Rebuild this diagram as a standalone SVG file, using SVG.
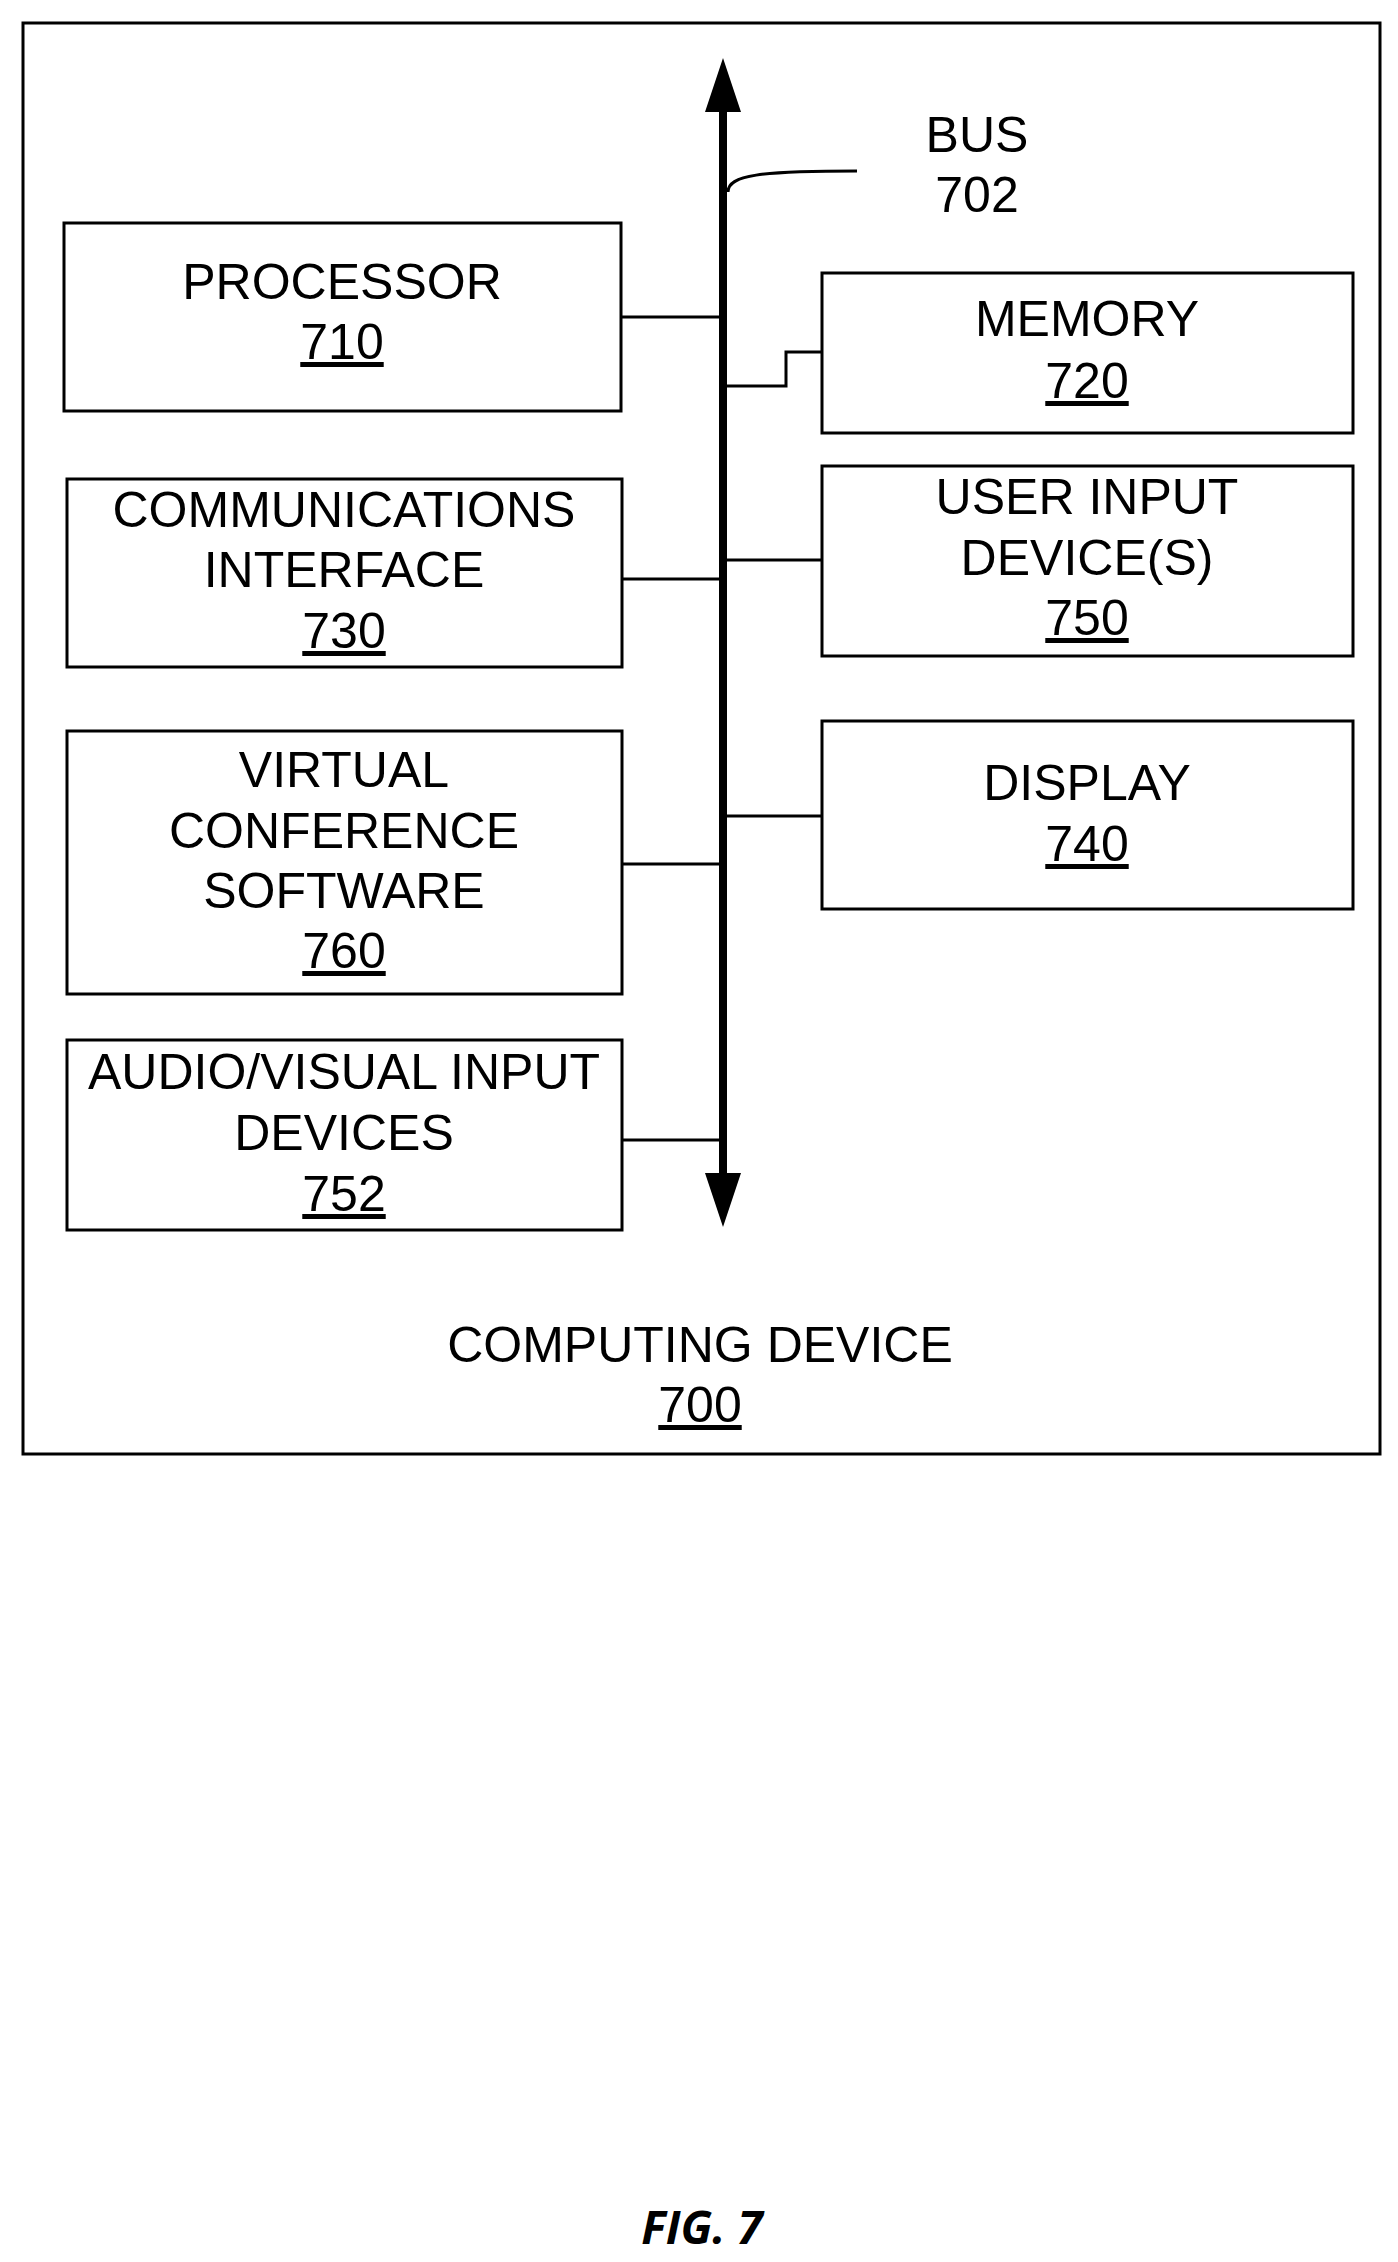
<svg xmlns="http://www.w3.org/2000/svg" width="1398" height="2262" viewBox="0 0 1398 2262">
<style>
rect{fill:none;stroke:#000;stroke-width:3}
text{font-family:"Liberation Sans",Arial,sans-serif;font-size:50px;text-anchor:middle;fill:#000}
.u{text-decoration:underline}
.c{fill:none;stroke:#000;stroke-width:3}
</style>
<rect x="0" y="0" width="1398" height="2262" style="fill:#fff;stroke:none"/>
<g id="computing-device"><rect x="23" y="23" width="1357" height="1431"/><text x="700" y="1362">COMPUTING DEVICE</text><text x="700" y="1422" class="u">700</text></g>
<g id="bus"><line x1="723" y1="95" x2="723" y2="1190" stroke="#000" stroke-width="8"/><polygon points="723,58 705,112 741,112" fill="#000"/><polygon points="723,1227 705,1173 741,1173" fill="#000"/><text x="977" y="152">BUS</text><text x="977" y="212">702</text></g>
<g id="processor"><rect x="64" y="223" width="557" height="188"/><text x="342" y="299">PROCESSOR</text><text x="342" y="359" class="u">710</text></g>
<g id="memory"><rect x="822" y="273" width="531" height="160"/><text x="1087" y="336">MEMORY</text><text x="1087" y="398" class="u">720</text></g>
<g id="comm"><rect x="67" y="479" width="555" height="188"/><text x="344" y="527">COMMUNICATIONS</text><text x="344" y="587">INTERFACE</text><text x="344" y="648" class="u">730</text></g>
<g id="user-input"><rect x="822" y="466" width="531" height="190"/><text x="1087" y="514">USER INPUT</text><text x="1087" y="575">DEVICE(S)</text><text x="1087" y="635" class="u">750</text></g>
<g id="virtual"><rect x="67" y="731" width="555" height="263"/><text x="344" y="787">VIRTUAL</text><text x="344" y="848">CONFERENCE</text><text x="344" y="908">SOFTWARE</text><text x="344" y="968" class="u">760</text></g>
<g id="display"><rect x="822" y="721" width="531" height="188"/><text x="1087" y="800">DISPLAY</text><text x="1087" y="861" class="u">740</text></g>
<g id="av"><rect x="67" y="1040" width="555" height="190"/><text x="344" y="1089">AUDIO/VISUAL INPUT</text><text x="344" y="1150">DEVICES</text><text x="344" y="1211" class="u">752</text></g>
<g id="connectors">
<path class="c" d="M728,192 C728,175 760,171 857,171"/>
<line class="c" x1="621" y1="317" x2="723" y2="317"/>
<polyline class="c" points="723,386 786,386 786,352 822,352"/>
<line class="c" x1="622" y1="579" x2="723" y2="579"/>
<line class="c" x1="723" y1="560" x2="822" y2="560"/>
<line class="c" x1="622" y1="864" x2="723" y2="864"/>
<line class="c" x1="723" y1="816" x2="822" y2="816"/>
<line class="c" x1="622" y1="1140" x2="723" y2="1140"/>
</g>
<text x="702" y="2244" style="font-weight:bold;font-style:italic;font-size:46px;font-family:'Open Sans','Noto Sans',sans-serif">FIG. 7</text>
</svg>
